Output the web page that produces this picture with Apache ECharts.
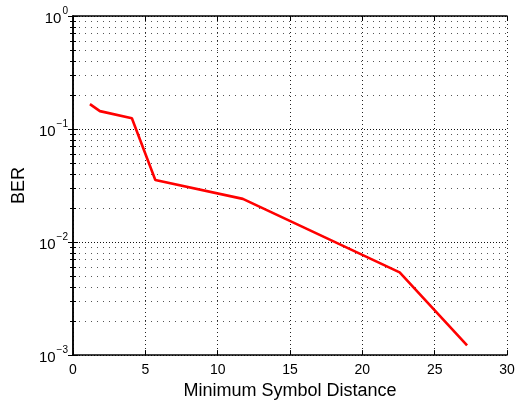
<!DOCTYPE html>
<html>
<head>
<meta charset="utf-8">
<script src="https://cdn.jsdelivr.net/npm/echarts@6/dist/echarts.min.js"></script>
<style>
html,body{margin:0;padding:0;background:#fff;}
#chart{width:519px;height:405px;}
</style>
</head>
<body>
<div id="chart"></div>
<script>
var distances = [1.17, 1.86, 4.07, 5.69, 11.74, 22.58, 27.24];
var berValues = [0.166, 0.144, 0.1245, 0.0354, 0.0241, 0.0054, 0.00122];
var xTicks = [0, 5, 10, 15, 20, 25, 30];
var yTickExponents = [-3, -2, -1, 0];

var FONT = '"Liberation Sans", Arial, Helvetica, sans-serif';
var chart = echarts.init(document.getElementById('chart'), null, {renderer: 'canvas'});

var data = distances.map(function (d, i) { return [d, berValues[i]]; });

function yLabel(v) {
  var e = Math.round(Math.log10(v));
  if (yTickExponents.indexOf(e) < 0) return '';
  var s = e < 0 ? '\u2212' + Math.abs(e) : String(e);
  return '{b|10}{s|' + s + '}';
}

var richY = {
  b: {fontSize: 15, fontFamily: FONT, color: '#000', padding: [6, 0, 0, 0]},
  s: {fontSize: 10, fontFamily: FONT, color: '#000', padding: [0, 0, 9, 1]}
};

var option = {
  backgroundColor: '#fff',
  animation: false,
  grid: {left: 73, right: 12, top: 16, bottom: 46, containLabel: false},
  xAxis: [{
    type: 'value', min: 0, max: 30, interval: 5, position: 'bottom',
    name: 'Minimum Symbol Distance', nameLocation: 'middle', nameGap: 22,
    nameTextStyle: {fontSize: 18, fontFamily: FONT, color: '#000'},
    axisLine: {show: true, lineStyle: {color: '#000', width: 1.5}},
    axisTick: {show: true, inside: true, length: 5, lineStyle: {color: '#000'}},
    axisLabel: {fontSize: 14, fontFamily: FONT, color: '#000', margin: 8,
      formatter: function (v) { return xTicks.indexOf(v) >= 0 ? String(v) : ''; }},
    splitLine: {show: true, lineStyle: {color: '#222', type: [1, 3], width: 1}}
  }, {
    type: 'value', min: 0, max: 30, interval: 5, position: 'top',
    axisLine: {show: true, lineStyle: {color: '#000', width: 1.5}},
    axisTick: {show: true, inside: true, length: 5, lineStyle: {color: '#000'}},
    axisLabel: {show: false},
    splitLine: {show: false}
  }],
  yAxis: [{
    type: 'log', logBase: 10, min: 0.001, max: 1, interval: 1, position: 'left',
    name: 'BER', nameLocation: 'middle', nameGap: 42, nameRotate: 90,
    nameTextStyle: {fontSize: 18, fontFamily: FONT, color: '#000'},
    axisLine: {show: true, lineStyle: {color: '#000', width: 1.5}},
    axisTick: {show: true, inside: true, length: 5, lineStyle: {color: '#000'}},
    minorTick: {show: true, splitNumber: 9, length: 3, lineStyle: {color: '#000'}},
    axisLabel: {formatter: yLabel, rich: richY, margin: 5},
    splitLine: {show: true, lineStyle: {color: '#111', type: [1, 2], width: 1}},
    minorSplitLine: {show: true, lineStyle: {color: '#555', type: [1, 5], width: 1}}
  }, {
    type: 'log', logBase: 10, min: 0.001, max: 1, interval: 1, position: 'right',
    axisLine: {show: true, lineStyle: {color: '#000', width: 1.5}},
    axisTick: {show: true, inside: true, length: 5, lineStyle: {color: '#000'}},
    minorTick: {show: true, splitNumber: 9, length: 3, lineStyle: {color: '#000'}},
    axisLabel: {show: false},
    splitLine: {show: false}
  }],
  series: [{
    type: 'line', xAxisIndex: 0, yAxisIndex: 0,
    data: data, showSymbol: false, symbol: 'none',
    lineStyle: {color: '#ff0000', width: 2.6},
    itemStyle: {color: '#ff0000'}
  }]
};
chart.setOption(option);
</script>
</body>
</html>
